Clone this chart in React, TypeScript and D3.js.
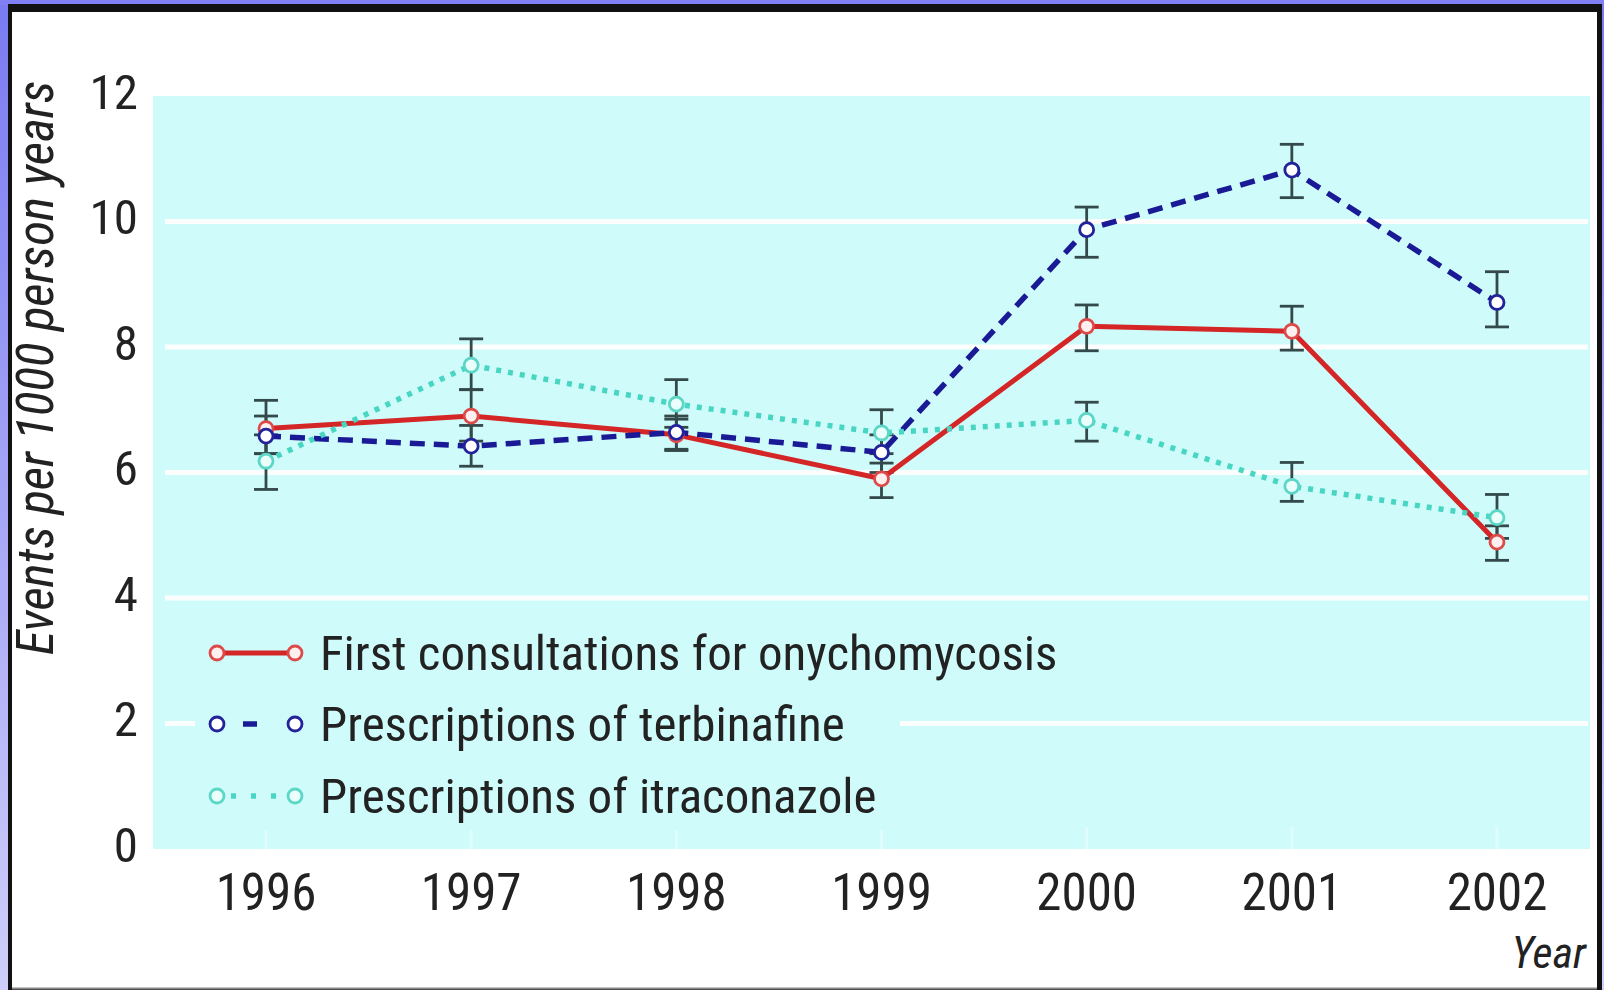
import React from "react";
import * as d3 from "d3";

const years = [1996, 1997, 1998, 1999, 2000, 2001, 2002];
const yTicks = [0, 2, 4, 6, 8, 10, 12];
const gridValues = [2, 4, 6, 8, 10];

const consultations = [6.7, 6.9, 6.6, 5.9, 8.33, 8.25, 4.89];
const consultLow = [6.3, 6.5, 6.35, 5.6, 7.94, 7.95, 4.6];
const consultHigh = [7.15, 7.32, 6.85, 6.15, 8.67, 8.65, 5.15];

const terbinafine = [6.58, 6.42, 6.64, 6.32, 9.87, 10.82, 8.71];
const terbLow = [6.3, 6.1, 6.37, 6.0, 9.43, 10.38, 8.32];
const terbHigh = [6.9, 6.75, 6.9, 6.6, 10.23, 11.23, 9.2];

const itraconazole = [6.18, 7.71, 7.09, 6.63, 6.83, 5.78, 5.28];
const itraLow = [5.73, 7.32, 6.72, 6.3, 6.5, 5.54, 4.95];
const itraHigh = [6.6, 8.13, 7.48, 7.0, 7.12, 6.16, 5.65];

const seriesNames = [
  "First consultations for onychomycosis",
  "Prescriptions of terbinafine",
  "Prescriptions of itraconazole",
];

const FONT = "'Liberation Sans Narrow', 'Arial Narrow', 'Roboto Condensed', 'Liberation Sans', sans-serif";

export default function App() {
  const W = 1604;
  const H = 990;
  const plot = { left: 153, right: 1590, top: 96, bottom: 849 };
  const x = d3.scaleLinear().domain([1996, 2002]).range([266, 1497]);
  const y = d3.scaleLinear().domain([0, 12]).range([plot.bottom, plot.top]);

  const series = [
    { name: seriesNames[0], vals: consultations, lo: consultLow, hi: consultHigh, color: "#d42626", mStroke: "#dd4a4a", mFill: "#fff0f0", width: 5, dash: null as string | null },
    { name: seriesNames[1], vals: terbinafine, lo: terbLow, hi: terbHigh, color: "#1a1a96", mStroke: "#22229a", mFill: "#ffffff", width: 5.5, dash: "15 9" },
    { name: seriesNames[2], vals: itraconazole, lo: itraLow, hi: itraHigh, color: "#48d6c2", mStroke: "#5cd6c6", mFill: "#eafffc", width: 5.5, dash: "5 7" },
  ];

  const line = d3.line<number>().x((_, i) => x(years[i])).y((d) => y(d));
  const errColor = "#34494a";
  const capW = 12;

  const legendY = [653, 724, 796];

  return (
    <svg
      width={W}
      height={H}
      style={{ position: "absolute", left: 0, top: 0, fontFamily: FONT }}
    >
      <defs>
        <linearGradient id="outerBg" x1="0" y1="0" x2="0" y2="1">
          <stop offset="0" stopColor="#7a7af2" />
          <stop offset="1" stopColor="#cfcffa" />
        </linearGradient>
      </defs>
      <rect x={0} y={0} width={W} height={H} fill="url(#outerBg)" />
      <rect x={0} y={0} width={W} height={5} fill="#8080f4" />
      <rect x={8} y={4} width={1594} height={986} fill="#111" />
      <rect x={12} y={12} width={1585} height={976} fill="#ffffff" />
      <line x1={12} x2={1597} y1={988.5} y2={988.5} stroke="#888" strokeWidth={2} />

      <g>
        <rect x={plot.left} y={plot.top} width={plot.right - plot.left} height={plot.bottom - plot.top} fill="#cffcfb" />
        {gridValues.map((g) => (
          <line key={g} x1={plot.left + 12} x2={plot.right - 2} y1={y(g)} y2={y(g)} stroke="#ffffff" strokeWidth={5} opacity={0.95} />
        ))}
        {years.map((yr) => (
          <line key={yr} x1={x(yr)} x2={x(yr)} y1={plot.bottom - 22} y2={plot.bottom} stroke="#ffffff" strokeWidth={3} opacity={0.35} />
        ))}

        <rect x={195} y={612} width={705} height={218} fill="#cffcfb" />

        {yTicks.map((t) => (
          <text key={t} x={138} y={y(t) - 4} textAnchor="end" dominantBaseline="central" fontSize={49} fill="#222">
            {t}
          </text>
        ))}
        {years.map((yr) => (
          <text key={yr} x={x(yr)} y={910} textAnchor="middle" fontSize={51} fill="#222">
            {yr}
          </text>
        ))}

        <text
          transform={`translate(53,368) rotate(-90)`}
          textAnchor="middle"
          fontSize={51}
          fontStyle="italic"
          fill="#222"
        >
          Events per 1000 person years
        </text>

        <text x={1586} y={968} textAnchor="end" fontSize={44} fontStyle="italic" fill="#222">
          Year
        </text>

        {series.map((s, si) => (
          <g key={"e" + si}>
            {s.vals.map((_, i) => (
              <g key={i} stroke={errColor} strokeWidth={2.8}>
                <line x1={x(years[i])} x2={x(years[i])} y1={y(s.lo[i])} y2={y(s.hi[i])} />
                <line x1={x(years[i]) - capW} x2={x(years[i]) + capW} y1={y(s.lo[i])} y2={y(s.lo[i])} />
                <line x1={x(years[i]) - capW} x2={x(years[i]) + capW} y1={y(s.hi[i])} y2={y(s.hi[i])} />
              </g>
            ))}
          </g>
        ))}

        {series.map((s, si) => (
          <path
            key={"l" + si}
            d={line(s.vals) || ""}
            fill="none"
            stroke={s.color}
            strokeWidth={s.width}
            strokeDasharray={s.dash || undefined}
            strokeLinejoin="round"
          />
        ))}

        {series.map((s, si) => (
          <g key={"m" + si}>
            {s.vals.map((v, i) => (
              <circle key={i} cx={x(years[i])} cy={y(v)} r={7} fill={s.mFill} stroke={s.mStroke} strokeWidth={2.8} />
            ))}
          </g>
        ))}

        {series.map((s, si) => (
          <g key={"lg" + si}>
            <line
              x1={223}
              x2={289}
              y1={legendY[si]}
              y2={legendY[si]}
              stroke={s.color}
              strokeWidth={s.width}
              strokeDasharray={si === 1 ? "0 20 14 40" : si === 2 ? "0 8 5 7" : undefined}
            />
            <circle cx={217} cy={legendY[si]} r={7} fill={s.mFill} stroke={s.mStroke} strokeWidth={2.8} />
            <circle cx={295} cy={legendY[si]} r={7} fill={s.mFill} stroke={s.mStroke} strokeWidth={2.8} />
            <text x={320} y={legendY[si] + 17} fontSize={49} fill="#222">
              {s.name}
            </text>
          </g>
        ))}
      </g>
    </svg>
  );
}
